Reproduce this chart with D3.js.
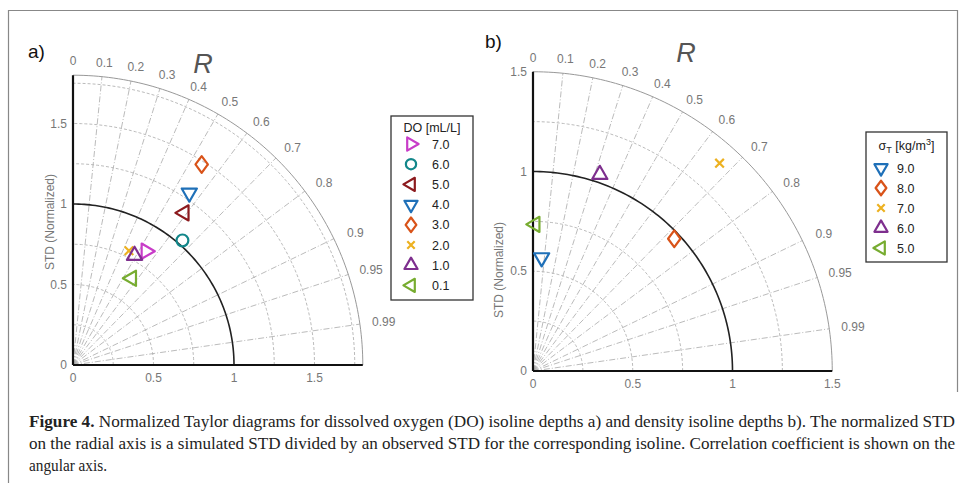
<!DOCTYPE html>
<html>
<head>
<meta charset="utf-8">
<script src="https://cdn.jsdelivr.net/npm/d3@7"></script>
<style>
  body { margin: 0; background: #fff; }
  svg { display: block; }
</style>
</head>
<body>
<div id="chart"></div>
<script>
// ---- data ----
var corrTicks = [0, 0.1, 0.2, 0.3, 0.4, 0.5, 0.6, 0.7, 0.8, 0.9, 0.95, 0.99];
var stdTicks = [0, 0.5, 1, 1.5];

// panel a: DO isolines
var doLabels = ['7.0', '6.0', '5.0', '4.0', '3.0', '2.0', '1.0', '0.1'];
var doStd = [0.84, 1.03, 1.17, 1.29, 1.48, 0.79, 0.78, 0.65];
var doR = [0.54, 0.66, 0.59, 0.56, 0.54, 0.44, 0.49, 0.56];
var doMarkers = ['right', 'circle', 'left', 'down', 'diamond', 'x', 'up', 'left'];
var doColors = ['#c83cc8', '#13878a', '#8c1a1e', '#1f70b8', '#d95319', '#edb120', '#7e2f8e', '#77ac30'];

// panel b: density isolines
var sigLabels = ['9.0', '8.0', '7.0', '6.0', '5.0'];
var sigStd = [0.57, 0.97, 1.40, 1.04, 0.735];
var sigR = [0.076, 0.73, 0.668, 0.322, 0.014];
var sigMarkers = ['down', 'diamond', 'x', 'up', 'left'];
var sigColors = ['#1f70b8', '#d95319', '#edb120', '#7e2f8e', '#77ac30'];

var W = 963, H = 483;
var svg = d3.select('#chart').append('svg')
  .attr('width', W).attr('height', H);

var sans = 'Liberation Sans, Arial, sans-serif';
var gridCol = '#aaa';
var labCol = '#777';

// frame around the figure
svg.append('path')
  .attr('d', 'M8.5,' + H + ' V10.5 H957.5 V392')
  .attr('fill', 'none').attr('stroke', '#888').attr('stroke-width', 1.2);

function markerPath(type, size) {
  if (type === 'circle') return d3.symbol().type(d3.symbolCircle).size(size * 1.1)();
  if (type === 'diamond') {
    var w = Math.sqrt(size) * 0.62, h = Math.sqrt(size) * 0.84;
    return 'M0,' + (-h) + 'L' + w + ',0L0,' + h + 'L' + (-w) + ',0Z';
  }
  if (type === 'x') return d3.symbol().type(d3.symbolTimes).size(size * 0.5)();
  return d3.symbol().type(d3.symbolTriangle).size(size)();
}
var rot = { up: 0, down: 180, left: -90, right: 90, circle: 0, diamond: 0, x: 0 };

function drawMarker(g, type, color, x, y, size) {
  g.append('path')
    .attr('d', markerPath(type, size))
    .attr('transform', 'translate(' + x + ',' + y + ') rotate(' + rot[type] + ')')
    .attr('fill', 'none')
    .attr('stroke', color)
    .attr('stroke-width', 2.2)
    .attr('stroke-linejoin', 'round');
}

function taylor(opt) {
  var rMax = opt.rMax;
  var x = d3.scaleLinear().domain([0, rMax]).range([opt.ox, opt.ox + rMax * opt.k]);
  var y = d3.scaleLinear().domain([0, rMax]).range([opt.oy, opt.oy - rMax * opt.k]);
  var g = svg.append('g');

  var arcLine = d3.line()
    .x(function (a) { return x(a[0] * Math.cos(a[1])); })
    .y(function (a) { return y(a[0] * Math.sin(a[1])); });
  function arcPts(r) {
    return d3.range(0, 91).map(function (d) { return [r, d * Math.PI / 180]; });
  }

  // std circles (dashed)
  var rings = d3.range(0.25, rMax, 0.25).filter(function (r) { return Math.abs(r - 1) > 1e-6 && r < rMax - 0.01; });
  g.selectAll('.ring').data(rings).enter().append('path')
    .attr('d', function (r) { return arcLine(arcPts(r)); })
    .attr('fill', 'none').attr('stroke', gridCol).attr('stroke-width', 0.8)
    .attr('stroke-dasharray', '3,2');

  // correlation rays (dash-dot)
  g.selectAll('.ray').data(corrTicks.slice(1)).enter().append('line')
    .attr('x1', x(0)).attr('y1', y(0))
    .attr('x2', function (c) { return x(rMax * c); })
    .attr('y2', function (c) { return y(rMax * Math.sqrt(1 - c * c)); })
    .attr('stroke', gridCol).attr('stroke-width', 0.8)
    .attr('stroke-dasharray', '6,2,1,2');

  // outer arc
  g.append('path').attr('d', arcLine(arcPts(rMax)))
    .attr('fill', 'none').attr('stroke', '#999').attr('stroke-width', 1);

  // reference std = 1
  g.append('path').attr('d', arcLine(arcPts(1)))
    .attr('fill', 'none').attr('stroke', '#222').attr('stroke-width', 1.6);

  // axes
  g.append('line').attr('x1', x(0)).attr('y1', y(0)).attr('x2', x(0)).attr('y2', y(rMax))
    .attr('stroke', '#111').attr('stroke-width', 2.2);
  g.append('line').attr('x1', x(0)).attr('y1', y(0)).attr('x2', x(rMax)).attr('y2', y(0))
    .attr('stroke', '#111').attr('stroke-width', 2.2);

  // tick labels
  g.selectAll('.xt').data(stdTicks).enter().append('text')
    .attr('x', function (d) { return x(d); }).attr('y', y(0) + 17)
    .attr('text-anchor', 'middle').attr('font-family', sans).attr('font-size', 12)
    .attr('fill', labCol).text(function (d) { return d; });
  g.selectAll('.yt').data(stdTicks).enter().append('text')
    .attr('x', x(0) - 6).attr('y', function (d) { return y(d) + 4; })
    .attr('text-anchor', 'end').attr('font-family', sans).attr('font-size', 12)
    .attr('fill', labCol).text(function (d) { return d; });

  // correlation labels
  var lr = rMax * opt.k + 14;
  g.selectAll('.ct').data(corrTicks).enter().append('text')
    .attr('x', function (c) { return opt.ox + lr * c + 10 * c; })
    .attr('y', function (c) { return opt.oy - lr * Math.sqrt(1 - c * c) + 4; })
    .attr('text-anchor', 'middle').attr('font-family', sans).attr('font-size', 12)
    .attr('fill', labCol).text(function (c) { return c; });

  // R title
  g.append('text').attr('x', opt.rx).attr('y', opt.ry)
    .attr('font-family', sans).attr('font-size', 27).attr('font-style', 'italic')
    .attr('fill', '#555').attr('text-anchor', 'middle').text('R');

  // panel letter
  g.append('text').attr('x', opt.px).attr('y', opt.py)
    .attr('font-family', sans).attr('font-size', 19).attr('fill', '#111').text(opt.panel);

  // y label
  g.append('text')
    .attr('transform', 'translate(' + opt.ylx + ',' + opt.yly + ') rotate(-90)')
    .attr('text-anchor', 'middle').attr('font-family', sans).attr('font-size', 12)
    .attr('fill', labCol).text('STD (Normalized)');

  // points
  opt.std.forEach(function (s, i) {
    var r = opt.r[i];
    drawMarker(g, opt.markers[i], opt.colors[i], x(s * r), y(s * Math.sqrt(1 - r * r)), opt.msize);
  });

  // legend
  var L = opt.legend;
  g.append('rect').attr('x', L.x).attr('y', L.y).attr('width', L.w).attr('height', L.h)
    .attr('fill', '#fff').attr('stroke', '#333').attr('stroke-width', 1.3);
  var title = g.append('text').attr('x', L.x + L.w / 2).attr('y', L.y + L.ty)
    .attr('text-anchor', 'middle').attr('font-family', sans).attr('font-size', 12.5).attr('fill', '#222');
  L.title(title);
  opt.labels.forEach(function (lab, i) {
    var yy = L.y + L.first + i * L.step;
    drawMarker(g, opt.markers[i], opt.colors[i], L.x + L.sx, yy, 75);
    g.append('text').attr('x', L.x + L.tx).attr('y', yy + 4.5)
      .attr('font-family', sans).attr('font-size', 12.5).attr('fill', '#222').text(lab);
  });
}

taylor({
  ox: 73, oy: 365, k: 161, rMax: 1.8,
  std: doStd, r: doR, markers: doMarkers, colors: doColors, labels: doLabels,
  msize: 100,
  rx: 203, ry: 73, px: 28, py: 58, panel: 'a)', ylx: 54, yly: 222,
  legend: {
    x: 391, y: 116, w: 82, h: 184, ty: 16, first: 28, step: 20.2, sx: 20, tx: 41,
    title: function (t) { t.text('DO [mL/L]'); }
  }
});

taylor({
  ox: 533, oy: 371, k: 199.5, rMax: 1.5,
  std: sigStd, r: sigR, markers: sigMarkers, colors: sigColors, labels: sigLabels,
  msize: 100,
  rx: 686, ry: 62, px: 485, py: 48, panel: 'b)', ylx: 503, yly: 270,
  legend: {
    x: 866, y: 132, w: 81, h: 130, ty: 18, first: 36, step: 20, sx: 15, tx: 31,
    title: function (t) {
      t.append('tspan').text('\u03c3');
      t.append('tspan').attr('font-size', 9).attr('dy', 3).text('T');
      t.append('tspan').attr('dy', -3).text(' [kg/m');
      t.append('tspan').attr('font-size', 9).attr('dy', -5).text('3');
      t.append('tspan').attr('dy', 5).text(']');
    }
  }
});

// caption
var serif = 'Liberation Serif, DejaVu Serif, serif';
var cap = svg.append('g').attr('font-family', serif).attr('font-size', 16).attr('fill', '#222');
var capLines = [
  'Normalized Taylor diagrams for dissolved oxygen (DO) isoline depths a) and density isoline depths b). The normalized STD',
  'on the radial axis is a simulated STD divided by an observed STD for the corresponding isoline. Correlation coefficient is shown on the',
  'angular axis.'
];
var c1 = cap.append('text').attr('x', 29).attr('y', 427);
c1.append('tspan').attr('font-weight', 'bold').text('Figure 4. ');
c1.append('tspan').text(capLines[0]);
c1.attr('textLength', 926).attr('lengthAdjust', 'spacingAndGlyphs');
cap.append('text').attr('x', 29).attr('y', 449).attr('textLength', 926)
  .attr('lengthAdjust', 'spacingAndGlyphs').text(capLines[1]);
cap.append('text').attr('x', 29).attr('y', 471).attr('textLength', 78)
  .attr('lengthAdjust', 'spacingAndGlyphs').text(capLines[2]);
</script>
</body>
</html>
